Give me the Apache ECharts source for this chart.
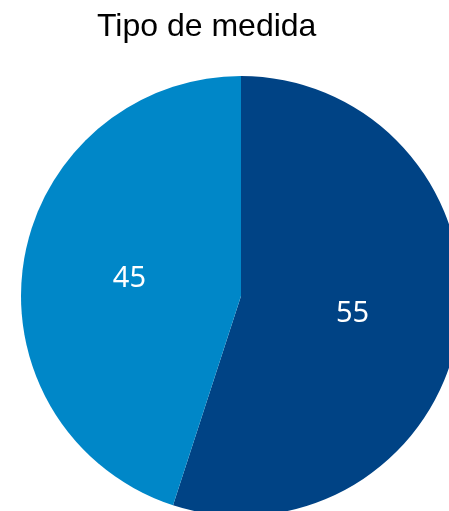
<!DOCTYPE html>
<html lang="es">
<head>
    <meta charset="UTF-8">
    <title>Tipo de medida</title>
    <style>
        html,body{margin:0;padding:0;background:#fff;}
        #main{width:449px;height:511px;}
    </style>
</head>
<body>
<div id="main"></div>
<script src="https://cdn.jsdelivr.net/npm/echarts@6/dist/echarts.min.js"></script>
<script>
    const names=['A','B']
    const values=[55,45]
    const colors=['#004385','#0087c8']

    const myChart=echarts.init(document.getElementById('main'))

    const option={
        animation:false,
        title:{
            text:'Tipo de medida',
            left:97,
            top:11,
            padding:0,
            textStyle:{
                fontFamily:'Liberation Sans, Arial, sans-serif',
                fontWeight:'normal',
                fontSize:32,
                color:'#000'
            }
        },
        series:[{
            type:'pie',
            center:[241,296],
            radius:[0,220],
            startAngle:90,
            clockwise:true,
            data:names.map((n,i)=>({name:n,value:values[i],itemStyle:{color:colors[i]}})),
            itemStyle:{borderWidth:0},
            label:{
                show:true,
                position:'inside',
                formatter:'{c}',
                color:'#fff',
                fontFamily:'Noto Sans, sans-serif',
                fontSize:29
            },
            labelLine:{show:false},
            emphasis:{disabled:true}
        }]
    }

    myChart.setOption(option)
</script>
</body>
</html>
